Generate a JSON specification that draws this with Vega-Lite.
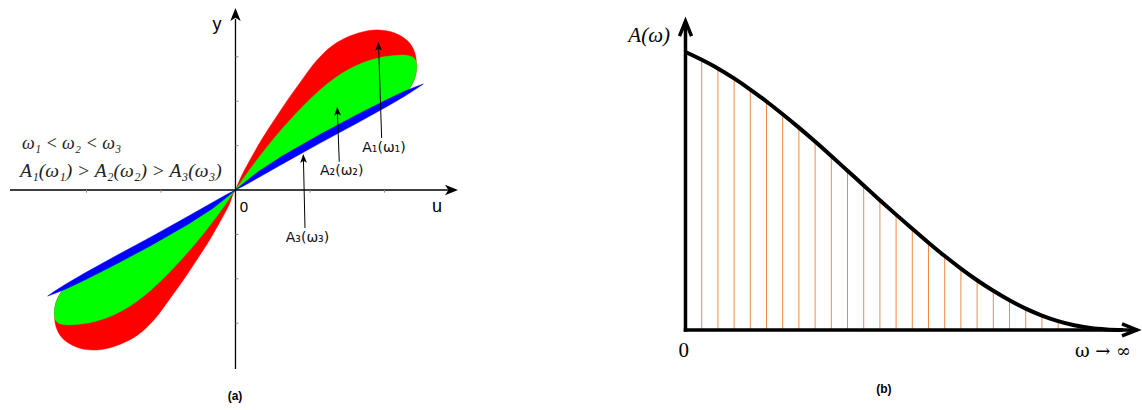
{
  "$schema": "https://vega.github.io/schema/vega-lite/v6.json",
  "padding": 0,
  "spacing": 0,
  "bounds": "flush",
  "config": {"view": {"stroke": null}},
  "datasets": {
    "loops": [
      {"loop":"red","i":0,"u":0,"v":0},{"loop":"red","i":1,"u":0.087,"v":0.338},{"loop":"red","i":2,"u":0.195,"v":0.676},{"loop":"red","i":3,"u":0.356,"v":1.149},{"loop":"red","i":4,"u":0.53,"v":1.599},{"loop":"red","i":5,"u":0.691,"v":2.005},{"loop":"red","i":6,"u":0.866,"v":2.417},{"loop":"red","i":7,"u":1.09,"v":2.917},{"loop":"red","i":8,"u":1.313,"v":3.266},{"loop":"red","i":9,"u":1.537,"v":3.468},{"loop":"red","i":10,"u":1.761,"v":3.581},{"loop":"red","i":11,"u":1.917,"v":3.604},{"loop":"red","i":12,"u":2.074,"v":3.57},{"loop":"red","i":13,"u":2.208,"v":3.48},{"loop":"red","i":14,"u":2.319,"v":3.345},{"loop":"red","i":15,"u":2.387,"v":3.176},{"loop":"red","i":16,"u":2.419,"v":3.007},{"loop":"red","i":17,"u":2.427,"v":2.86},{"loop":"red","i":18,"u":2.423,"v":2.628},{"loop":"red","i":19,"u":2.387,"v":2.439},{"loop":"red","i":20,"u":2.319,"v":2.252},{"loop":"red","i":21,"u":2.269,"v":2.166},{"loop":"red","i":22,"u":2.017,"v":1.944},{"loop":"red","i":23,"u":1.639,"v":1.608},{"loop":"red","i":24,"u":1.134,"v":1.153},{"loop":"red","i":25,"u":0.63,"v":0.676},{"loop":"red","i":26,"u":0.303,"v":0.343},{"loop":"red","i":27,"u":0.126,"v":0.142},{"loop":"red","i":28,"u":0,"v":0},
      {"loop":"red","i":29,"u":-0.087,"v":-0.338},{"loop":"red","i":30,"u":-0.195,"v":-0.676},{"loop":"red","i":31,"u":-0.356,"v":-1.149},{"loop":"red","i":32,"u":-0.53,"v":-1.599},{"loop":"red","i":33,"u":-0.691,"v":-2.005},{"loop":"red","i":34,"u":-0.866,"v":-2.417},{"loop":"red","i":35,"u":-1.09,"v":-2.917},{"loop":"red","i":36,"u":-1.313,"v":-3.266},{"loop":"red","i":37,"u":-1.537,"v":-3.468},{"loop":"red","i":38,"u":-1.761,"v":-3.581},{"loop":"red","i":39,"u":-1.917,"v":-3.604},{"loop":"red","i":40,"u":-2.074,"v":-3.57},{"loop":"red","i":41,"u":-2.208,"v":-3.48},{"loop":"red","i":42,"u":-2.319,"v":-3.345},{"loop":"red","i":43,"u":-2.387,"v":-3.176},{"loop":"red","i":44,"u":-2.419,"v":-3.007},{"loop":"red","i":45,"u":-2.427,"v":-2.86},{"loop":"red","i":46,"u":-2.423,"v":-2.628},{"loop":"red","i":47,"u":-2.387,"v":-2.439},{"loop":"red","i":48,"u":-2.319,"v":-2.252},{"loop":"red","i":49,"u":-2.269,"v":-2.166},{"loop":"red","i":50,"u":-2.017,"v":-1.944},{"loop":"red","i":51,"u":-1.639,"v":-1.608},{"loop":"red","i":52,"u":-1.134,"v":-1.153},{"loop":"red","i":53,"u":-0.63,"v":-0.676},{"loop":"red","i":54,"u":-0.303,"v":-0.343},{"loop":"red","i":55,"u":-0.126,"v":-0.142},{"loop":"red","i":56,"u":0,"v":0},
      {"loop":"green","i":0,"u":0,"v":0},{"loop":"green","i":1,"u":0.128,"v":0.311},{"loop":"green","i":2,"u":0.329,"v":0.766},{"loop":"green","i":3,"u":0.53,"v":1.189},{"loop":"green","i":4,"u":0.732,"v":1.577},{"loop":"green","i":5,"u":0.933,"v":1.932},{"loop":"green","i":6,"u":1.134,"v":2.252},{"loop":"green","i":7,"u":1.336,"v":2.523},{"loop":"green","i":8,"u":1.537,"v":2.732},{"loop":"green","i":9,"u":1.738,"v":2.883},{"loop":"green","i":10,"u":1.946,"v":2.984},{"loop":"green","i":11,"u":2.148,"v":3.029},{"loop":"green","i":12,"u":2.282,"v":3.036},{"loop":"green","i":13,"u":2.376,"v":2.995},{"loop":"green","i":14,"u":2.416,"v":2.928},{"loop":"green","i":15,"u":2.43,"v":2.815},{"loop":"green","i":16,"u":2.423,"v":2.628},{"loop":"green","i":17,"u":2.387,"v":2.439},{"loop":"green","i":18,"u":2.319,"v":2.252},{"loop":"green","i":19,"u":2.252,"v":2.14},{"loop":"green","i":20,"u":2.017,"v":1.944},{"loop":"green","i":21,"u":1.639,"v":1.608},{"loop":"green","i":22,"u":1.134,"v":1.153},{"loop":"green","i":23,"u":0.63,"v":0.676},{"loop":"green","i":24,"u":0.303,"v":0.343},{"loop":"green","i":25,"u":0.126,"v":0.142},{"loop":"green","i":26,"u":0,"v":0},
      {"loop":"green","i":27,"u":-0.128,"v":-0.311},{"loop":"green","i":28,"u":-0.329,"v":-0.766},{"loop":"green","i":29,"u":-0.53,"v":-1.189},{"loop":"green","i":30,"u":-0.732,"v":-1.577},{"loop":"green","i":31,"u":-0.933,"v":-1.932},{"loop":"green","i":32,"u":-1.134,"v":-2.252},{"loop":"green","i":33,"u":-1.336,"v":-2.523},{"loop":"green","i":34,"u":-1.537,"v":-2.732},{"loop":"green","i":35,"u":-1.738,"v":-2.883},{"loop":"green","i":36,"u":-1.946,"v":-2.984},{"loop":"green","i":37,"u":-2.148,"v":-3.029},{"loop":"green","i":38,"u":-2.282,"v":-3.036},{"loop":"green","i":39,"u":-2.376,"v":-2.995},{"loop":"green","i":40,"u":-2.416,"v":-2.928},{"loop":"green","i":41,"u":-2.43,"v":-2.815},{"loop":"green","i":42,"u":-2.423,"v":-2.628},{"loop":"green","i":43,"u":-2.387,"v":-2.439},{"loop":"green","i":44,"u":-2.319,"v":-2.252},{"loop":"green","i":45,"u":-2.252,"v":-2.14},{"loop":"green","i":46,"u":-2.017,"v":-1.944},{"loop":"green","i":47,"u":-1.639,"v":-1.608},{"loop":"green","i":48,"u":-1.134,"v":-1.153},{"loop":"green","i":49,"u":-0.63,"v":-0.676},{"loop":"green","i":50,"u":-0.303,"v":-0.343},{"loop":"green","i":51,"u":-0.126,"v":-0.142},{"loop":"green","i":52,"u":0,"v":0},
      {"loop":"blue","i":0,"u":0,"v":0},{"loop":"blue","i":1,"u":0.126,"v":0.176},{"loop":"blue","i":2,"u":0.303,"v":0.411},{"loop":"blue","i":3,"u":0.63,"v":0.766},{"loop":"blue","i":4,"u":1.134,"v":1.25},{"loop":"blue","i":5,"u":1.639,"v":1.703},{"loop":"blue","i":6,"u":2.017,"v":2.023},{"loop":"blue","i":7,"u":2.269,"v":2.222},{"loop":"blue","i":8,"u":2.42,"v":2.326},{"loop":"blue","i":9,"u":2.521,"v":2.387},{"loop":"blue","i":10,"u":2.42,"v":2.272},{"loop":"blue","i":11,"u":2.269,"v":2.11},{"loop":"blue","i":12,"u":2.017,"v":1.865},{"loop":"blue","i":13,"u":1.639,"v":1.513},{"loop":"blue","i":14,"u":1.134,"v":1.056},{"loop":"blue","i":15,"u":0.63,"v":0.586},{"loop":"blue","i":16,"u":0.303,"v":0.275},{"loop":"blue","i":17,"u":0.126,"v":0.108},{"loop":"blue","i":18,"u":0,"v":0},
      {"loop":"blue","i":19,"u":-0.126,"v":-0.176},{"loop":"blue","i":20,"u":-0.303,"v":-0.411},{"loop":"blue","i":21,"u":-0.63,"v":-0.766},{"loop":"blue","i":22,"u":-1.134,"v":-1.25},{"loop":"blue","i":23,"u":-1.639,"v":-1.703},{"loop":"blue","i":24,"u":-2.017,"v":-2.023},{"loop":"blue","i":25,"u":-2.269,"v":-2.222},{"loop":"blue","i":26,"u":-2.42,"v":-2.326},{"loop":"blue","i":27,"u":-2.521,"v":-2.387},{"loop":"blue","i":28,"u":-2.42,"v":-2.272},{"loop":"blue","i":29,"u":-2.269,"v":-2.11},{"loop":"blue","i":30,"u":-2.017,"v":-1.865},{"loop":"blue","i":31,"u":-1.639,"v":-1.513},{"loop":"blue","i":32,"u":-1.134,"v":-1.056},{"loop":"blue","i":33,"u":-0.63,"v":-0.586},{"loop":"blue","i":34,"u":-0.303,"v":-0.275},{"loop":"blue","i":35,"u":-0.126,"v":-0.108},{"loop":"blue","i":36,"u":0,"v":0}
    ],
    "curve": [
      {"w":0,"A":1.0},{"w":1,"A":0.972},{"w":2,"A":0.941},{"w":3,"A":0.905},{"w":4,"A":0.865},{"w":5,"A":0.822},{"w":6,"A":0.776},{"w":7,"A":0.728},{"w":8,"A":0.678},{"w":9,"A":0.626},{"w":10,"A":0.573},{"w":11,"A":0.52},{"w":12,"A":0.467},{"w":13,"A":0.415},{"w":14,"A":0.364},{"w":15,"A":0.314},{"w":16,"A":0.266},{"w":17,"A":0.221},{"w":18,"A":0.179},{"w":19,"A":0.141},{"w":20,"A":0.107},{"w":21,"A":0.077},{"w":22,"A":0.052},{"w":23,"A":0.032},{"w":24,"A":0.017},{"w":25,"A":0.007},{"w":26,"A":0.002},{"w":27,"A":0}
    ]
  },
  "hconcat": [
    {
      "width": 470,
      "height": 410,
      "encoding": {
        "x": {"field": "u", "type": "quantitative", "scale": {"domain": [-3.161, 3.148], "nice": false, "zero": false}, "axis": null},
        "y": {"field": "v", "type": "quantitative", "scale": {"domain": [-4.955, 4.279], "nice": false, "zero": false}, "axis": null}
      },
      "layer": [
        {"data": {"name": "loops"}, "transform": [{"filter": "datum.loop === 'red'"}], "mark": {"type": "line", "fill": "#ff0000", "stroke": "#ff0000", "strokeWidth": 0.5, "interpolate": "catmull-rom"}, "encoding": {"order": {"field": "i", "type": "quantitative"}}},
        {"data": {"name": "loops"}, "transform": [{"filter": "datum.loop === 'green'"}], "mark": {"type": "line", "fill": "#00ff00", "stroke": "#00ff00", "strokeWidth": 0.5, "interpolate": "catmull-rom"}, "encoding": {"order": {"field": "i", "type": "quantitative"}}},
        {"data": {"name": "loops"}, "transform": [{"filter": "datum.loop === 'blue'"}], "mark": {"type": "line", "fill": "#0000ff", "stroke": "#0000ff", "strokeWidth": 0.5, "interpolate": "linear"}, "encoding": {"order": {"field": "i", "type": "quantitative"}}},
        {"data": {"values": [{"u": -3.027, "v": 0, "u2": 2.85, "v2": 0}, {"u": 0, "v": -4.032, "u2": 0, "v2": 3.85}]}, "mark": {"type": "rule", "color": "black", "strokeWidth": 1.3}, "encoding": {"x2": {"field": "u2"}, "y2": {"field": "v2"}}},
        {"data": {"values": [{"u": 0, "v": -3, "u2": 0.04, "v2": -3}, {"u": 0, "v": -2, "u2": 0.04, "v2": -2}, {"u": 0, "v": -1, "u2": 0.04, "v2": -1}, {"u": 0, "v": 1, "u2": 0.04, "v2": 1}, {"u": 0, "v": 2, "u2": 0.04, "v2": 2}, {"u": 0, "v": 3, "u2": 0.04, "v2": 3}, {"u": -2, "v": 0, "u2": -2, "v2": -0.06}, {"u": -1, "v": 0, "u2": -1, "v2": -0.06}, {"u": 1, "v": 0, "u2": 1, "v2": -0.06}, {"u": 2, "v": 0, "u2": 2, "v2": -0.06}]}, "mark": {"type": "rule", "color": "#888888", "strokeWidth": 1}, "encoding": {"x2": {"field": "u2"}, "y2": {"field": "v2"}}},
        {"data": {"values": [{"u": 1.962, "v": 1.171, "u2": 1.922, "v2": 3.2}, {"u": 1.393, "v": 0.637, "u2": 1.368, "v2": 1.75}, {"u": 0.933, "v": -0.856, "u2": 0.912, "v2": 0.7}]}, "mark": {"type": "rule", "color": "black", "strokeWidth": 1}, "encoding": {"x2": {"field": "u2"}, "y2": {"field": "v2"}}},
        {"data": {"values": [{"u": 2.987, "v": 0}]}, "mark": {"type": "point", "shape": "M0,0L-2,-0.8L-1.5,0L-2,0.8Z", "size": 169, "filled": true, "color": "black", "opacity": 1, "angle": 0}, "encoding": {}},
        {"data": {"values": [{"u": 0, "v": 4.099}]}, "mark": {"type": "point", "shape": "M0,0L-2,-0.8L-1.5,0L-2,0.8Z", "size": 169, "filled": true, "color": "black", "opacity": 1, "angle": 270}, "encoding": {}},
        {"data": {"values": [{"u": 1.917, "v": 3.34}, {"u": 1.366, "v": 1.876}, {"u": 0.91, "v": 0.811}]}, "mark": {"type": "point", "shape": "M0,0L-2,-0.75L-1.5,0L-2,0.75Z", "size": 81, "filled": true, "color": "black", "opacity": 1, "angle": 268}, "encoding": {}},
        {"data": {"values": [{"u": -0.248, "v": 3.716, "t": "y"}, {"u": 2.705, "v": -0.383, "t": "u"}]}, "mark": {"type": "text", "font": "Liberation Sans", "fontSize": 18, "align": "center", "baseline": "middle", "color": "black"}, "encoding": {"text": {"field": "t"}}},
        {"data": {"values": [{"u": 0.114, "v": -0.383, "t": "0"}]}, "mark": {"type": "text", "font": "Liberation Sans", "fontSize": 15, "align": "center", "baseline": "middle", "color": "black"}, "encoding": {"text": {"field": "t"}}},
        {"data": {"values": [{"u": -0.007, "v": -4.64, "t": "(a)"}]}, "mark": {"type": "text", "font": "Liberation Sans", "fontSize": 12, "fontWeight": "bold", "align": "center", "baseline": "middle", "color": "black"}, "encoding": {"text": {"field": "t"}}},
        {"data": {"values": [{"u": 1.993, "v": 0.946, "t": "A₁(ω₁)"}, {"u": 1.426, "v": 0.428, "t": "A₂(ω₂)"}, {"u": 0.966, "v": -1.081, "t": "A₃(ω₃)"}]}, "mark": {"type": "text", "font": "DejaVu Sans", "fontSize": 14, "align": "center", "baseline": "middle", "color": "#111111"}, "encoding": {"text": {"field": "t"}}},
        {"data": {"values": [{"u": -2.866, "v": 1.036, "t": "ω₁ < ω₂ < ω₃"}]}, "mark": {"type": "text", "font": "Liberation Serif", "fontStyle": "italic", "fontSize": 18, "align": "left", "baseline": "middle", "color": "#222222"}, "encoding": {"text": {"field": "t"}}},
        {"data": {"values": [{"u": -2.893, "v": 0.43, "t": "A₁(ω₁)  >  A₂(ω₂)  >  A₃(ω₃)"}]}, "mark": {"type": "text", "font": "Liberation Serif", "fontStyle": "italic", "fontSize": 19.5, "align": "left", "baseline": "middle", "color": "#222222"}, "encoding": {"text": {"field": "t"}}}
      ]
    },
    {
      "width": 672,
      "height": 410,
      "encoding": {
        "x": {"field": "w", "type": "quantitative", "scale": {"domain": [-13.302, 28.179], "nice": false, "zero": false}, "axis": null},
        "y": {"field": "A", "type": "quantitative", "scale": {"domain": [-0.2878, 1.1871], "nice": false, "zero": false}, "axis": null}
      },
      "layer": [
        {"data": {"name": "curve"}, "transform": [{"filter": "datum.w >= 1 && datum.w <= 23"}], "mark": {"type": "rule", "color": "#f08a45", "strokeWidth": 1}, "encoding": {"y2": {"datum": 0}}},
        {"data": {"name": "curve"}, "mark": {"type": "line", "color": "black", "strokeWidth": 4, "interpolate": "monotone"}, "encoding": {}},
        {"data": {"values": [{"w": 0, "A": 0, "w2": 0, "A2": 1.1}, {"w": 0, "A": 0, "w2": 27.8, "A2": 0}]}, "mark": {"type": "rule", "color": "black", "strokeWidth": 3.5, "strokeCap": "square"}, "encoding": {"x2": {"field": "w2"}, "y2": {"field": "A2"}}},
        {"data": {"values": [{"w": 0, "A": 1.111}]}, "mark": {"type": "point", "shape": "M-2,-0.8L0,0L-2,0.8", "size": 225, "filled": false, "stroke": "black", "strokeWidth": 3.5, "opacity": 1, "angle": 270}, "encoding": {}},
        {"data": {"values": [{"w": 27.87, "A": 0}]}, "mark": {"type": "point", "shape": "M-2,-0.8L0,0L-2,0.8", "size": 225, "filled": false, "stroke": "black", "strokeWidth": 3.5, "opacity": 1, "angle": 0}, "encoding": {}},
        {"data": {"values": [{"w": -0.957, "A": 1.058, "t": "A(ω)"}]}, "mark": {"type": "text", "font": "Liberation Serif", "fontStyle": "italic", "fontSize": 21, "align": "right", "baseline": "middle", "color": "black"}, "encoding": {"text": {"field": "t"}}},
        {"data": {"values": [{"w": -0.11, "A": -0.074, "t": "0"}]}, "mark": {"type": "text", "font": "Liberation Serif", "fontSize": 21, "align": "center", "baseline": "middle", "color": "black"}, "encoding": {"text": {"field": "t"}}},
        {"data": {"values": [{"w": 25.77, "A": -0.078, "t": "ω → ∞"}]}, "mark": {"type": "text", "font": "DejaVu Serif", "fontSize": 18, "align": "center", "baseline": "middle", "color": "black"}, "encoding": {"text": {"field": "t"}}},
        {"data": {"values": [{"w": 12.25, "A": -0.212, "t": "(b)"}]}, "mark": {"type": "text", "font": "Liberation Sans", "fontSize": 12, "fontWeight": "bold", "align": "center", "baseline": "middle", "color": "black"}, "encoding": {"text": {"field": "t"}}}
      ]
    }
  ]
}
